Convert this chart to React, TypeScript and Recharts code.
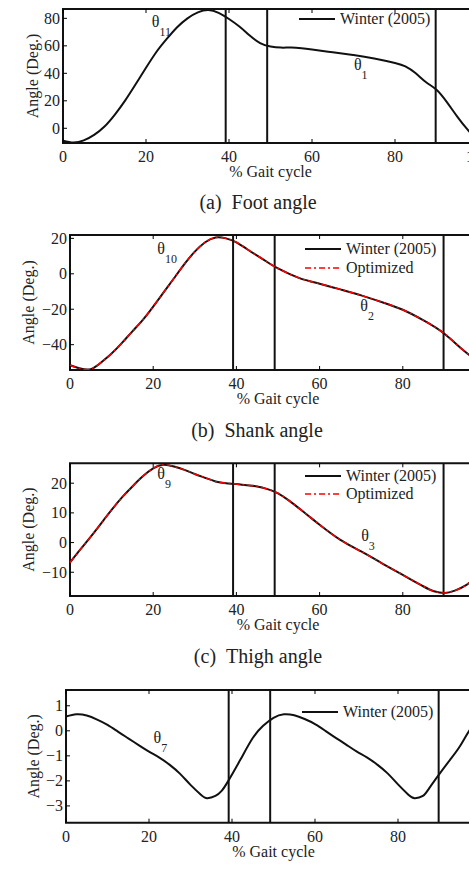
import React from "react";
import {
  LineChart,
  Line,
  XAxis,
  YAxis,
  ReferenceLine,
  ReferenceArea,
  ReferenceDot,
  Legend,
} from "recharts";

const SERIF = "'Liberation Serif', 'Times New Roman', serif";

// gait events (% of cycle) marked by vertical lines
const gaitEvents = [39.2, 49.2, 89.8];
const pctTicks = [0, 20, 40, 60, 80, 100];
const legendOrder = ["Winter (2005)", "Optimized"];

// (a) foot angle
const footPct = [0, 2.5, 5, 7.5, 10, 12.5, 15, 17.5, 20, 22.5, 25, 27.5, 30, 32.5, 35, 37.5, 40, 42.5, 45, 47.5, 50, 52.5, 55, 57.5, 60, 65, 70, 75, 80, 82.5, 85, 87.5, 90, 92.5, 95, 97.5, 100];
const footWinter = [-9, -10.3, -8.8, -4.8, 1.3, 10, 20.3, 32, 44, 55.5, 65, 73.5, 80, 84.3, 86, 84, 79.5, 74, 67.5, 62, 59.5, 58.7, 58.7, 58.2, 57.3, 55.3, 53.3, 50.8, 47.5, 45, 40, 33.5, 28, 19, 8.5, -1, -9];
const footTicks = [0, 20, 40, 60, 80];

// (b) shank angle
const shankPct = [0, 2.5, 5, 7.5, 10, 12.5, 15, 17.5, 20, 22.5, 25, 27.5, 30, 32.5, 35, 37.5, 40, 42.5, 45, 47.5, 50, 55, 60, 65, 70, 75, 80, 85, 90, 95, 100];
const shankWinter = [-51.6, -53.5, -53.8, -50, -45, -39, -32.5, -26, -18.5, -10.5, -2.5, 5.5, 12.5, 17.8, 20.5, 20, 17.8, 14, 10.3, 6.5, 3, -2.3, -5.6, -8.8, -12.2, -16, -20.3, -26.3, -33.8, -44, -52];
const shankOptimized = [-51.6, -53.5, -53.8, -50, -45, -39, -32.5, -26, -18.5, -10.5, -2.5, 5.5, 12.5, 17.8, 20.5, 20, 17.8, 14, 10.3, 6.5, 3, -2.3, -5.6, -8.8, -12.2, -16, -20.3, -26.3, -33.8, -44, -52];
const shankTicks = [-40, -20, 0, 20];

// (c) thigh angle
const thighPct = [0, 2.5, 5, 7.5, 10, 12.5, 15, 17.5, 20, 22.5, 25, 27.5, 30, 32.5, 35, 37.5, 40, 42.5, 45, 47.5, 50, 52.5, 55, 57.5, 60, 65, 70, 75, 80, 85, 87.5, 90, 92.5, 95, 97.5, 100];
const thighWinter = [-6.7, -2.3, 2, 6.5, 11, 15.2, 18.9, 22.3, 25, 26.2, 25.6, 24.5, 23.1, 21.8, 20.6, 20, 19.7, 19.3, 18.9, 18, 16.6, 14.3, 11.6, 8.8, 6, 0.9, -3, -7, -10.9, -14.8, -16.4, -17, -16.2, -14.5, -11.5, -7];
const thighOptimized = [-6.7, -2.3, 2, 6.5, 11, 15.2, 18.9, 22.3, 25, 26.2, 25.6, 24.5, 23.1, 21.8, 20.6, 20, 19.7, 19.3, 18.9, 18, 16.6, 14.3, 11.6, 8.8, 6, 0.9, -3, -7, -10.9, -14.8, -16.4, -17, -16.2, -14.5, -11.5, -7];
const thighTicks = [-10, 0, 10, 20];

// (d) theta 7
const t7Pct = [0, 2.5, 5, 7.5, 10, 12.5, 15, 17.5, 20, 22.5, 25, 27.5, 30, 32.5, 34, 36, 37.5, 39, 42, 45, 47.5, 50, 52.5, 55, 57.5, 60, 62.5, 65, 67.5, 70, 72.5, 75, 77.5, 80, 82.5, 84, 86, 87.5, 90, 92.5, 95, 97.5, 100];
const t7Winter = [0.57, 0.66, 0.61, 0.45, 0.24, -0.03, -0.3, -0.57, -0.83, -1.07, -1.36, -1.72, -2.16, -2.55, -2.69, -2.6, -2.4, -2.03, -1.16, -0.29, 0.2, 0.52, 0.66, 0.62, 0.47, 0.27, 0, -0.28, -0.55, -0.82, -1.06, -1.35, -1.7, -2.14, -2.55, -2.69, -2.6, -2.3, -1.72, -1.17, -0.6, 0.08, 0.5];
const t7Ticks = [-3, -2, -1, 0, 1];

const fmt = (v: number) => (v < 0 ? "\u2212" + Math.abs(v) : String(v));

const makeXTick = (plotH: number) => (props: any) => {
  const { x, y, payload } = props;
  return (
    <g>
      <line x1={x} x2={x} y1={y} y2={y - 4} stroke="#000" strokeWidth={1} />
      <line x1={x} x2={x} y1={y - plotH} y2={y - plotH + 4} stroke="#000" strokeWidth={1} />
      <text x={x} y={y + 19} textAnchor="middle" fontSize={16} fontFamily={SERIF} fill="#222">
        {fmt(payload.value)}
      </text>
    </g>
  );
};

const YTick = (props: any) => {
  const { x, y, payload } = props;
  return (
    <g>
      <line x1={x} x2={x + 4} y1={y} y2={y} stroke="#000" strokeWidth={1} />
      <text x={x - 3} y={y + 5.5} textAnchor="end" fontSize={16} fontFamily={SERIF} fill="#222">
        {fmt(payload.value)}
      </text>
    </g>
  );
};

const thetaLabel = (sub: string) => (props: any) => {
  const { viewBox } = props;
  return (
    <text x={viewBox.x} y={viewBox.y} fontFamily={SERIF} fontSize={16} fill="#222">
      {"\u03b8"}
      <tspan dy={9} fontSize={12}>
        {sub}
      </tspan>
    </text>
  );
};

const renderLegend = (props: any) => {
  const items = [...(props.payload || [])].sort(
    (a: any, b: any) => legendOrder.indexOf(a.value) - legendOrder.indexOf(b.value)
  );
  return (
    <div style={{ fontFamily: SERIF, fontSize: 16, color: "#222" }}>
      {items.map((e: any) => {
        const dashed = e.value === "Optimized";
        return (
          <div key={e.value} style={{ display: "flex", alignItems: "center", height: 18.4, whiteSpace: "nowrap" }}>
            <svg width={36} height={6} style={{ display: "block" }}>
              <line
                x1={0}
                x2={36}
                y1={3}
                y2={3}
                stroke={dashed ? "#ff0000" : "#111"}
                strokeWidth={dashed ? 1.5 : 2}
                strokeDasharray={dashed ? "6 3 2 3" : undefined}
              />
            </svg>
            <span style={{ marginLeft: 5 }}>{e.value}</span>
          </div>
        );
      })}
    </div>
  );
};

type Theta = { x: number; y: number; sub: string };

type PanelProps = {
  top: number;
  plotTop: number;
  plotBottom: number;
  plotLeft: number;
  plotRight: number;
  pct: number[];
  winter: number[];
  optimized?: number[];
  yDomain: [number, number];
  yTicks: number[];
  yLabelX: number;
  legendTop: number;
  legendLeft: number;
  thetas: Theta[];
};

const Panel = (p: PanelProps) => {
  const width = 500;
  const height = p.plotBottom - p.top + 45;
  const plotH = p.plotBottom - p.plotTop;
  const rows = p.pct.map((v, i) => ({
    pct: v,
    winter: p.winter[i],
    optimized: p.optimized ? p.optimized[i] : undefined,
  }));
  return (
    <div style={{ position: "absolute", left: 0, top: p.top }}>
      <LineChart
        width={width}
        height={height}
        data={rows}
        margin={{ top: p.plotTop - p.top, right: width - p.plotRight, left: 0, bottom: 0 }}
      >
        <XAxis
          dataKey="pct"
          type="number"
          domain={[0, 100]}
          ticks={pctTicks}
          interval={0}
          height={45}
          tickSize={0}
          tickMargin={0}
          tickLine={false}
          axisLine={false}
          tick={makeXTick(plotH)}
          label={{ value: "% Gait cycle", position: "insideTop", offset: 23, fontSize: 16, fill: "#222", fontFamily: SERIF }}
        />
        <YAxis
          type="number"
          domain={p.yDomain}
          allowDataOverflow
          ticks={p.yTicks}
          interval={0}
          width={p.plotLeft}
          tickSize={0}
          tickMargin={0}
          tickLine={false}
          axisLine={false}
          tick={YTick}
          label={{
            value: "Angle (Deg.)",
            angle: -90,
            position: "insideLeft",
            offset: p.yLabelX,
            fontSize: 16,
            fill: "#222",
            fontFamily: SERIF,
            style: { textAnchor: "middle" },
          }}
        />
        <ReferenceArea
          x1={0}
          x2={100}
          y1={p.yDomain[0]}
          y2={p.yDomain[1]}
          fill="none"
          fillOpacity={0}
          stroke="#111"
          strokeWidth={2}
          ifOverflow="visible"
        />
        {gaitEvents.map((g) => (
          <ReferenceLine key={g} x={g} stroke="#111" strokeWidth={2} />
        ))}
        {p.thetas.map((t) => (
          <ReferenceDot key={t.sub} x={t.x} y={t.y} r={0} fill="none" stroke="none" label={{ content: thetaLabel(t.sub) }} />
        ))}
        <Line
          name="Winter (2005)"
          dataKey="winter"
          type="natural"
          stroke="#111"
          strokeWidth={2}
          dot={false}
          activeDot={false}
          isAnimationActive={false}
        />
        {p.optimized && (
          <Line
            name="Optimized"
            dataKey="optimized"
            type="natural"
            stroke="#ff0000"
            strokeWidth={1.5}
            strokeDasharray="6 3 2 3"
            dot={false}
            activeDot={false}
            isAnimationActive={false}
          />
        )}
        <Legend
          layout="horizontal"
          verticalAlign="middle"
          align="center"
          content={renderLegend}
          wrapperStyle={{ top: p.legendTop, left: p.legendLeft, width: "auto", height: "auto" }}
        />
      </LineChart>
    </div>
  );
};

const Title = ({ text, cx, cy }: { text: string; cx: number; cy: number }) => (
  <div
    style={{
      position: "absolute",
      left: cx - 150,
      width: 300,
      top: cy - 12,
      height: 24,
      lineHeight: "24px",
      textAlign: "center",
      fontFamily: SERIF,
      fontSize: 20,
      color: "#222",
    }}
  >
    {text}
  </div>
);

export default function App() {
  return (
    <div
      style={{
        position: "absolute",
        left: 0,
        top: 0,
        width: 469,
        height: 869,
        overflow: "hidden",
        background: "#fff",
        fontFamily: SERIF,
      }}
    >
      <Panel
        top={0}
        plotTop={9}
        plotBottom={143}
        plotLeft={63}
        plotRight={478}
        pct={footPct}
        winter={footWinter}
        yDomain={[-10.7, 86.8]}
        yTicks={footTicks}
        yLabelX={32}
        legendTop={10.1}
        legendLeft={299}
        thetas={[
          { x: 21.4, y: 73.8, sub: "11" },
          { x: 70.1, y: 42.3, sub: "1" },
        ]}
      />
      <Title text={"(a)\u2002Foot angle"} cx={258} cy={202} />
      <Panel
        top={225}
        plotTop={235}
        plotBottom={370}
        plotLeft={70}
        plotRight={486}
        pct={shankPct}
        winter={shankWinter}
        optimized={shankOptimized}
        yDomain={[-54.3, 21.9]}
        yTicks={shankTicks}
        yLabelX={28}
        legendTop={15.1}
        legendLeft={305}
        thetas={[
          { x: 21, y: 11.2, sub: "10" },
          { x: 69.8, y: -21.2, sub: "2" },
        ]}
      />
      <Title text={"(b)\u2002Shank angle"} cx={257} cy={430} />
      <Panel
        top={453}
        plotTop={463.3}
        plotBottom={596}
        plotLeft={70}
        plotRight={486}
        pct={thighPct}
        winter={thighWinter}
        optimized={thighOptimized}
        yDomain={[-18, 26.7]}
        yTicks={thighTicks}
        yLabelX={28}
        legendTop={13.5}
        legendLeft={305}
        thetas={[
          { x: 21, y: 21.4, sub: "9" },
          { x: 70, y: 0.6, sub: "3" },
        ]}
      />
      <Title text={"(c)\u2002Thigh angle"} cx={258} cy={656} />
      <Panel
        top={680}
        plotTop={690}
        plotBottom={822.7}
        plotLeft={66}
        plotRight={481}
        pct={t7Pct}
        winter={t7Winter}
        yDomain={[-3.67, 1.63]}
        yTicks={t7Ticks}
        yLabelX={33}
        legendTop={22.5}
        legendLeft={302}
        thetas={[{ x: 21.1, y: -0.47, sub: "7" }]}
      />
    </div>
  );
}
